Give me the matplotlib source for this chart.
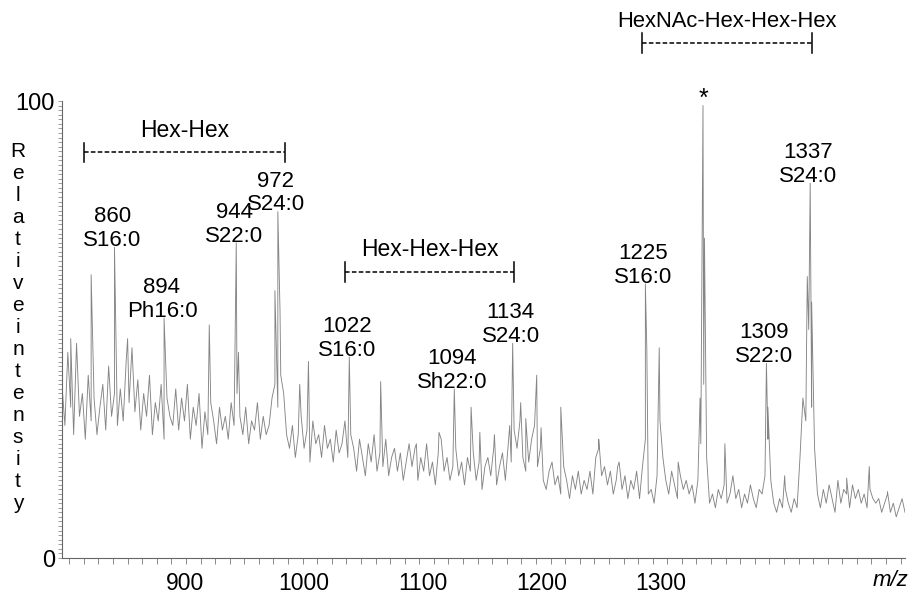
import numpy as np
import matplotlib
matplotlib.use("Agg")
import matplotlib.pyplot as plt
from matplotlib.ticker import MultipleLocator

plt.rcParams['font.family'] = ['Liberation Sans', 'DejaVu Sans']

# baseline trace, one value every 2 m/z starting at 825
mz_start = 825
mz_step = 2
base_vals = [
    38, 29, 45, 33, 27, 47, 31, 36, 26, 40, 30, 35, 27, 33, 38, 28, 42, 31, 36, 29,
    37, 30, 43, 34, 46, 32, 39, 28, 36, 31, 40, 27, 34, 30, 38, 26, 35, 31, 29, 37,
    28, 35, 30, 38, 26, 33, 29, 36, 24, 32, 27, 34, 30, 25, 33, 28, 31, 26, 34, 29,
    36, 31, 27, 33, 25, 30, 28, 34, 26, 31, 27, 29, 35, 38, 33, 40, 36, 27, 24, 29,
    22, 27, 31, 24, 28, 21, 30, 25, 27, 22, 29, 24, 26, 21, 28, 23, 25, 30, 22, 27,
    24, 19, 26, 22, 18, 25, 21, 27, 19, 23, 20, 26, 18, 22, 24, 19, 23, 17, 21, 25,
    20, 24, 17, 22, 19, 25, 18, 21, 16, 23, 26, 19, 22, 17, 20, 24, 18, 21, 16, 22,
    19, 23, 17, 21, 15, 20, 22, 18, 24, 16, 20, 23, 17, 25, 21, 28, 24, 30, 22, 19,
    21, 26, 29, 20, 24, 17, 15, 19, 21, 16, 18, 14, 20, 17, 13, 18, 15, 19, 14, 17,
    15, 19, 14, 22, 24, 18, 20, 16, 19, 14, 17, 21, 15, 18, 13, 17, 15, 19, 13, 20,
    26, 14, 15, 12, 18, 30, 22, 17, 14, 19, 16, 13, 18, 15, 17, 14, 16, 12, 17, 25,
    38, 22, 12, 14, 11, 15, 13, 16, 12, 14, 18, 13, 15, 11, 14, 12, 16, 13, 11, 15,
    14, 18, 26, 17, 12, 10, 13, 11, 15, 12, 10, 13, 11, 22, 35, 30, 50, 33, 24, 14,
    11, 15, 12, 16, 13, 10, 17, 12, 15, 14, 11, 16, 13, 15, 12, 14, 11, 15, 13, 12,
    13, 10, 12, 14, 10, 12, 9, 11, 13, 10,
]

# sharp peaks (m/z, relative intensity)
peak_mz = [831, 845, 861, 870, 895, 926, 944.5, 946, 971, 973, 974.5, 988, 994,
           1022, 1043.5, 1068, 1083.5, 1094, 1105.5, 1111.5, 1121.5, 1132, 1134,
           1139.5, 1143, 1150.5, 1153.5, 1167, 1193, 1206, 1225, 1226, 1234.5,
           1247.5, 1262.5, 1264.5, 1265.5, 1266.5, 1279.5, 1308, 1309, 1320.5,
           1336, 1338, 1339, 1363, 1378.5, 1391]
peak_h = [48, 62, 68, 48, 52.5, 51, 69, 45, 58.5, 75.8, 54, 38, 43,
          44, 38.6, 25, 27.5, 37, 33, 27.5, 27, 29, 47,
          34, 30.5, 40, 28.5, 33, 26, 20, 60, 45.5, 46,
          21, 35, 99, 70, 39, 25, 42.6, 33, 18,
          61.6, 82, 56, 17.5, 20, 14.5]

# labelled peaks
label_at = [861, 895, 944.5, 973, 1022, 1094, 1134, 1225, 1308, 1338]
label_txt = ['860\nS16:0', '894\nPh16:0', '944\nS22:0', '972\nS24:0',
             '1022\nS16:0', '1094\nSh22:0', '1134\nS24:0', '1225\nS16:0',
             '1309\nS22:0', '1337\nS24:0']
star_at = 1264.5

# bracketed mass differences: (start, end, label)
brackets = [(840, 978, 'Hex-Hex'),
            (1019, 1135, 'Hex-Hex-Hex'),
            (1223, 1339, 'HexNAc-Hex-Hex-Hex')]
bracket_y = [88.8, 62.6, 112.7]
bracket_fs = [16.5, 16.5, 15.8]

# x tick labels as printed on the original figure
tick_pos = [909.3, 990.8, 1072.3, 1153.8, 1235.3]
tick_lab = ['900', '1000', '1100', '1200', '1300']

mz_grid = mz_start + mz_step * np.arange(len(base_vals))
x = np.concatenate([mz_grid, peak_mz])
y = np.concatenate([base_vals, peak_h])
order = np.argsort(x, kind='stable')

fig = plt.figure(figsize=(9.1, 5.97), dpi=100)
ax = fig.add_axes([0.0681, 0.0653, 0.9264, 0.7655])

ax.plot(x[order], y[order], color='#858585', lw=0.65)

ax.set_xlim(825, 1403)
ax.set_ylim(0, 100)
for s in ['top', 'right']:
    ax.spines[s].set_visible(False)
for s in ['left', 'bottom']:
    ax.spines[s].set_color('#666666')
    ax.spines[s].set_linewidth(0.8)

ax.set_xticks(tick_pos, tick_lab)
ax.xaxis.set_minor_locator(MultipleLocator(10))
ax.tick_params(axis='x', which='major', length=0, pad=10, labelsize=16.5)
ax.tick_params(axis='x', which='minor', length=4, color='#777777', width=0.6)
ax.set_yticks([0, 100], ['0', '100'])
ax.yaxis.set_minor_locator(MultipleLocator(1))
ax.tick_params(axis='y', which='both', length=3, color='#777777', width=0.5,
               labelsize=17, pad=2)

ax.annotate('m/z', xy=(1393, 0), xycoords='data', xytext=(0, -16),
            textcoords='offset points', ha='center', va='center',
            fontsize=16, style='italic', annotation_clip=False)

fig.text(0.0198, 0.4514, '\n'.join('Relativeintensity'), ha='center',
         va='center', fontsize=15, linespacing=1.2, multialignment='center')

heights = dict(zip(peak_mz, peak_h))
for mz, txt in zip(label_at, label_txt):
    ax.annotate(txt, xy=(mz, heights[mz]), xytext=(-1.5, -2.8),
                textcoords='offset points', ha='center', va='bottom',
                fontsize=16, linespacing=1.18)
ax.annotate('*', xy=(star_at, heights[star_at]), xytext=(0, -4),
            textcoords='offset points', ha='center', va='bottom',
            fontsize=18, annotation_clip=False)

for (x0, x1, name), yb, fs in zip(brackets, bracket_y, bracket_fs):
    ax.plot([x0, x1], [yb, yb], color='black', lw=1.1,
            ls=(0, (3, 1.5)), clip_on=False)
    for xe in (x0, x1):
        ax.plot([xe, xe], [yb - 2.1, yb + 2.1], color='black', lw=1.1,
                clip_on=False)
    ax.text((x0 + x1) / 2, yb + 4.8, name, ha='center', va='center',
            fontsize=fs, clip_on=False)

fig.savefig('out.png', dpi=100)
